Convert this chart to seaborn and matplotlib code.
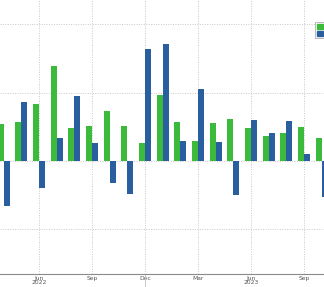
import matplotlib
matplotlib.use("Agg")
import matplotlib.pyplot as plt
import seaborn as sns
import pandas as pd
from matplotlib.ticker import FixedLocator, NullFormatter

months = ["Apr 2022", "May 2022", "Jun 2022", "Jul 2022", "Aug 2022", "Sep 2022",
          "Oct 2022", "Nov 2022", "Dec 2022", "Jan 2023", "Feb 2023", "Mar 2023",
          "Apr 2023", "May 2023", "Jun 2023", "Jul 2023", "Aug 2023", "Sep 2023",
          "Oct 2023"]
green_vals = [0.54, 0.57, 0.83, 1.39, 0.48, 0.51, 0.73, 0.51, 0.26, 0.96,
              0.57, 0.29, 0.56, 0.61, 0.48, 0.37, 0.41, 0.50, 0.34]
blue_vals = [-0.66, 0.86, -0.39, 0.34, 0.95, 0.26, -0.32, -0.48, 1.64, 1.71,
             0.29, 1.05, 0.28, -0.50, 0.60, 0.41, 0.58, 0.10, -0.53]
series_names = ["Goods", "Housing"]
tick_labels = ["Jun\n2022", "Sep", "Dec", "Mar", "Jun\n2023", "Sep"]
tick_months = ["Jun 2022", "Sep 2022", "Dec 2022", "Mar 2023", "Jun 2023", "Sep 2023"]

df = pd.DataFrame({
    "month": months * 2,
    "value": green_vals + blue_vals,
    "series": [series_names[0]] * len(months) + [series_names[1]] * len(months),
})

sns.set_style("white")
fig = plt.figure(figsize=(3.24, 2.87), dpi=100)
ax = fig.add_axes([0, 13 / 287, 1, 274 / 287])

palette = {series_names[0]: "#3cba3c", series_names[1]: "#2a5f9f"}
sns.barplot(data=df, x="month", y="value", hue="series", order=months,
            palette=palette, width=0.68, gap=0, saturation=1, ax=ax,
            legend=False, linewidth=0)

ax.set_xlim(-0.21, 18.13)
ax.set_ylim(-1.652, 2.354)
ax.set_xlabel("")
ax.set_ylabel("")

for s in ["top", "right", "left"]:
    ax.spines[s].set_visible(False)
ax.spines["bottom"].set_color("#8a8a8a")
ax.spines["bottom"].set_linewidth(0.8)

major_pos = [months.index(m) for m in tick_months]
ax.xaxis.set_major_locator(FixedLocator(major_pos))
ax.set_xticklabels(tick_labels, linespacing=0.85)
ax.xaxis.set_minor_locator(FixedLocator(list(range(len(months)))))
ax.xaxis.set_minor_formatter(NullFormatter())
ax.tick_params(axis="x", which="major", length=2, direction="inout", color="#8a8a8a",
               labelsize=4.3, labelcolor="#555555", pad=0.5)
ax.tick_params(axis="x", which="minor", length=2, direction="inout", color="#8a8a8a")
ax.set_yticks([-1, 0, 1, 2])
ax.tick_params(axis="y", left=False, labelleft=False)

ax.grid(True, axis="both", which="major", color="#c8c8c8", linestyle=(0, (1, 1.5)),
        linewidth=0.7)
ax.set_axisbelow(True)

# year separator line below the axis at the Dec/Jan boundary
ax.plot([8, 8], [0, -0.05], transform=ax.get_xaxis_transform(), color="#c8c8c8",
        linewidth=0.7, clip_on=False)

handles = [plt.Rectangle((0, 0), 1, 1, color=palette[n]) for n in series_names]
leg = fig.legend(handles, series_names, loc="upper left",
                 bbox_to_anchor=(312 / 324, 1 - 19 / 287), fontsize=4.5,
                 frameon=True, fancybox=False, handlelength=0.9, handleheight=0.9,
                 handletextpad=0.3, borderpad=0.3, labelspacing=0.15)
leg.get_frame().set_edgecolor("#999999")
leg.get_frame().set_linewidth(0.6)

fig.savefig("out.png", dpi=100)
